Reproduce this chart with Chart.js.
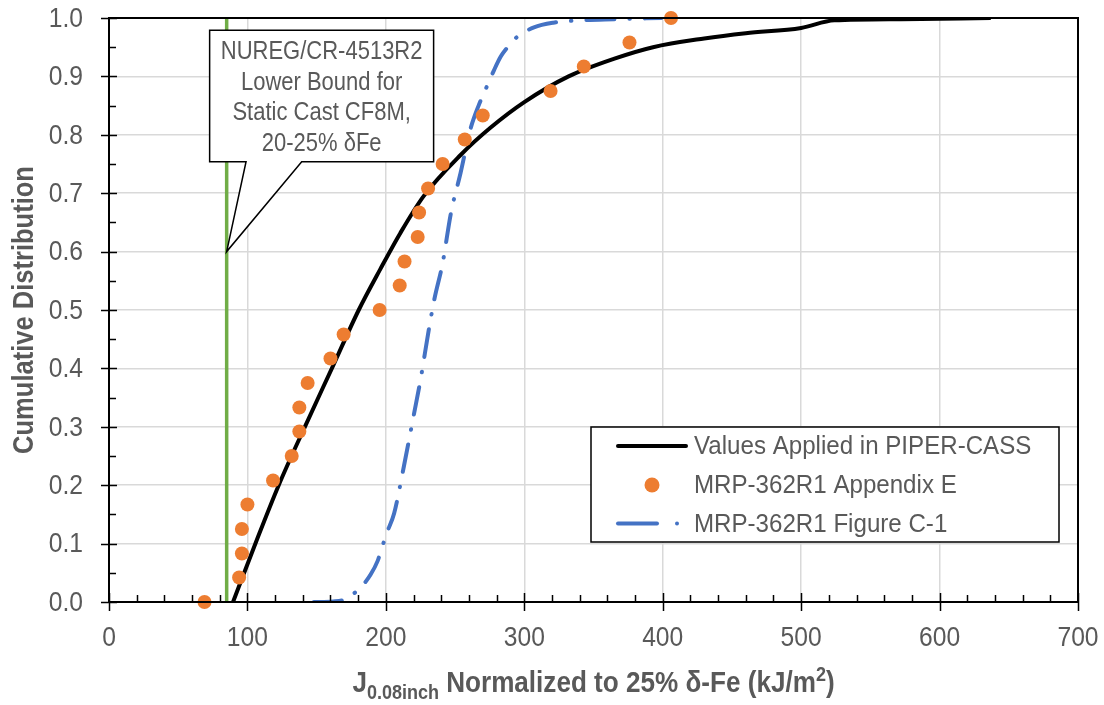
<!DOCTYPE html>
<html>
<head>
<meta charset="utf-8">
<script src="https://cdn.jsdelivr.net/npm/chart.js@4/dist/chart.umd.min.js"></script>
<style>
  body { margin: 0; background: #fff; }
  canvas { display: block; }
</style>
</head>
<body>
<canvas id="cdfChart" width="1104" height="705"></canvas>
<script>
// --- data ---
const pipcassX = [89.6, 106.9, 122.6, 141.5, 161, 180.4, 196, 210.5, 227.3, 253.8, 275.5, 300, 332, 364.6, 393, 430, 460, 500, 524, 572, 637];
const pipcassY = [0, 0.107, 0.2, 0.3, 0.4, 0.5, 0.57, 0.632, 0.695, 0.765, 0.812, 0.856, 0.9, 0.93, 0.95, 0.965, 0.974, 0.983, 0.996, 0.998, 1.0];

const appxEX = [69, 94, 96, 96, 100, 118.5, 132, 137.5, 137.5, 143.5, 160, 169.5, 195.5, 210, 213.5, 223, 224, 230.5, 241, 257, 270, 319, 343, 376, 406];
const appxEY = [0, 0.042, 0.083, 0.125, 0.167, 0.208, 0.25, 0.292, 0.333, 0.375, 0.417, 0.458, 0.5, 0.542, 0.583, 0.625, 0.667, 0.708, 0.75, 0.792, 0.833, 0.875, 0.917, 0.958, 1.0];

const figC1X = [148, 162, 170, 176, 183, 189, 194, 197, 201, 206, 213, 220, 225, 231, 235, 241, 247, 254, 261, 267, 273, 278, 283, 289, 295, 307, 321, 340, 365, 399];
const figC1Y = [0, 0.001, 0.004, 0.013, 0.028, 0.047, 0.07, 0.092, 0.12, 0.152, 0.232, 0.318, 0.38, 0.466, 0.518, 0.58, 0.666, 0.735, 0.809, 0.85, 0.883, 0.91, 0.934, 0.953, 0.968, 0.984, 0.992, 0.996, 0.998, 1.0];

const nuregX = [85, 85];
const nuregY = [0, 1];

const xTickValues = [0, 100, 200, 300, 400, 500, 600, 700];
const yTickLabels = ['0.0', '0.1', '0.2', '0.3', '0.4', '0.5', '0.6', '0.7', '0.8', '0.9', '1.0'];

const seriesNames = ['Values Applied in PIPER-CASS', 'MRP-362R1 Appendix E', 'MRP-362R1 Figure C-1'];
const noteLines = ['NUREG/CR-4513R2', 'Lower Bound for', 'Static Cast CF8M,', '20-25% \u03B4Fe'];

const BLACK = '#000000', ORANGE = '#ED7D31', BLUE = '#4472C4', GREEN = '#70AD47';
const TEXT = '#595959', GRID = '#D9D9D9';

// reference text is a narrow Arial; squeeze Liberation Sans horizontally
const FAM = '"Liberation Sans", Arial, sans-serif';
const SX = 0.88;
const SZ = { tick: 28, legend: 26.5, note: 25, title: 29, sub: 20 };

function pts(xs, ys) {
  return xs.map((x, i) => ({ x: x, y: ys[i] }));
}

function sText(ctx, s, x, y, align, sx) {
  ctx.save();
  ctx.translate(x, y);
  ctx.scale(sx || SX, 1);
  ctx.textAlign = align;
  ctx.fillText(s, 0, 0);
  ctx.restore();
}

// plot frame, Excel-style cross ticks and tick labels
const framePlugin = {
  id: 'frame',
  afterDatasetsDraw(chart) {
    const { ctx, chartArea: a, scales: { x, y } } = chart;
    ctx.save();
    ctx.strokeStyle = BLACK;
    ctx.lineWidth = 2;
    ctx.strokeRect(a.left, a.top, a.right - a.left, a.bottom - a.top);
    ctx.lineWidth = 1.5;
    ctx.beginPath();
    for (let v = 0; v <= 1.0001; v += 0.05) {
      const py = Math.round(y.getPixelForValue(v)) + 0.5;
      const major = Math.abs(v * 10 - Math.round(v * 10)) < 1e-6;
      ctx.moveTo(a.left - (major ? 8 : 0), py);
      ctx.lineTo(a.left + (major ? 8 : 7), py);
    }
    for (let v = 0; v <= 700; v += 20) {
      const px = Math.round(x.getPixelForValue(v)) + 0.5;
      const major = v % 100 === 0;
      ctx.moveTo(px, a.bottom + (major ? 9 : 0));
      ctx.lineTo(px, a.bottom - (major ? 9 : 7));
    }
    ctx.stroke();

    ctx.fillStyle = TEXT;
    ctx.font = SZ.tick + 'px ' + FAM;
    ctx.textBaseline = 'middle';
    yTickLabels.forEach(t => sText(ctx, t, a.left - 26, y.getPixelForValue(parseFloat(t)) + 1, 'right'));
    xTickValues.forEach(v => sText(ctx, String(v), x.getPixelForValue(v), a.bottom + 36, 'center'));
    ctx.restore();
  }
};

// callout box pointing at the NUREG lower bound line
const calloutPlugin = {
  id: 'callout',
  afterDatasetsDraw(chart) {
    const { ctx, scales: { x, y } } = chart;
    const L = x.getPixelForValue(72.7), R = x.getPixelForValue(234.5);
    const T = y.getPixelForValue(0.979), B = y.getPixelForValue(0.754);
    const p1 = x.getPixelForValue(99), p2 = x.getPixelForValue(139.2);
    const tipX = x.getPixelForValue(85), tipY = y.getPixelForValue(0.6);
    ctx.save();
    ctx.beginPath();
    ctx.moveTo(L, T);
    ctx.lineTo(R, T);
    ctx.lineTo(R, B);
    ctx.lineTo(p2, B);
    ctx.lineTo(tipX, tipY);
    ctx.lineTo(p1, B);
    ctx.lineTo(L, B);
    ctx.closePath();
    ctx.fillStyle = '#fff';
    ctx.fill();
    ctx.strokeStyle = BLACK;
    ctx.lineWidth = 1.5;
    ctx.stroke();
    ctx.fillStyle = TEXT;
    ctx.font = SZ.note + 'px ' + FAM;
    ctx.textBaseline = 'middle';
    const cx = (L + R) / 2;
    noteLines.forEach((s, i) => sText(ctx, s, cx, T + 22 + i * 30.5, 'center'));
    ctx.restore();
  }
};

// legend box inside the plot, lower right
const legendPlugin = {
  id: 'boxLegend',
  afterDatasetsDraw(chart) {
    const { ctx } = chart;
    const bx = 591, by = 427, bw = 468, bh = 115;
    const rows = [446, 485, 523.5];
    ctx.save();
    ctx.fillStyle = '#fff';
    ctx.fillRect(bx, by, bw, bh);
    ctx.strokeStyle = BLACK;
    ctx.lineWidth = 1.5;
    ctx.strokeRect(bx, by, bw, bh);

    ctx.lineCap = 'round';
    ctx.strokeStyle = BLACK;
    ctx.lineWidth = 4;
    ctx.beginPath();
    ctx.moveTo(618, rows[0]);
    ctx.lineTo(686, rows[0]);
    ctx.stroke();

    ctx.fillStyle = ORANGE;
    ctx.beginPath();
    ctx.arc(652, rows[1], 7.5, 0, Math.PI * 2);
    ctx.fill();

    ctx.strokeStyle = BLUE;
    ctx.beginPath();
    ctx.moveTo(618, rows[2]);
    ctx.lineTo(657, rows[2]);
    ctx.stroke();
    ctx.fillStyle = BLUE;
    ctx.beginPath();
    ctx.arc(677, rows[2], 2, 0, Math.PI * 2);
    ctx.fill();

    ctx.fillStyle = TEXT;
    ctx.font = SZ.legend + 'px ' + FAM;
    ctx.textBaseline = 'middle';
    seriesNames.forEach((s, i) => sText(ctx, s, 694, rows[i] + 1, 'left', 0.91));
    ctx.restore();
  }
};

// axis titles (x title has sub/superscripts)
const titlesPlugin = {
  id: 'axisTitles',
  afterDraw(chart) {
    const { ctx, chartArea: a } = chart;
    ctx.save();
    ctx.fillStyle = TEXT;
    ctx.textBaseline = 'alphabetic';
    const big = 'bold ' + SZ.title + 'px ' + FAM;
    const small = 'bold ' + SZ.sub + 'px ' + FAM;
    const tsx = 0.9;
    const parts = [
      { t: 'J', f: big, dy: 0 },
      { t: '0.08inch', f: small, dy: 7 },
      { t: ' Normalized to 25% \u03B4-Fe (kJ/m', f: big, dy: 0 },
      { t: '2', f: small, dy: -11 },
      { t: ')', f: big, dy: 0 }
    ];
    let total = 0;
    parts.forEach(p => { ctx.font = p.f; p.w = ctx.measureText(p.t).width * tsx; total += p.w; });
    let px = (a.left + a.right) / 2 - total / 2;
    const base = 692;
    parts.forEach(p => { ctx.font = p.f; sText(ctx, p.t, px, base + p.dy, 'left', tsx); px += p.w; });

    ctx.translate(33, (a.top + a.bottom) / 2);
    ctx.rotate(-Math.PI / 2);
    ctx.font = big;
    sText(ctx, 'Cumulative Distribution', 0, 0, 'center');
    ctx.restore();
  }
};

new Chart(document.getElementById('cdfChart'), {
  type: 'scatter',
  data: {
    datasets: [
      {
        label: seriesNames[1],
        data: pts(appxEX, appxEY),
        backgroundColor: ORANGE,
        borderColor: ORANGE,
        pointRadius: 7,
        pointBorderWidth: 0,
        showLine: false,
        clip: false,
        order: 1
      },
      {
        label: seriesNames[0],
        data: pts(pipcassX, pipcassY),
        borderColor: BLACK,
        borderWidth: 4,
        pointRadius: 0,
        showLine: true,
        cubicInterpolationMode: 'monotone',
        order: 2
      },
      {
        label: seriesNames[2],
        data: pts(figC1X, figC1Y),
        borderColor: BLUE,
        borderWidth: 4,
        borderDash: [28, 15, 0.5, 15],
        borderCapStyle: 'round',
        pointRadius: 0,
        showLine: true,
        cubicInterpolationMode: 'monotone',
        order: 3
      },
      {
        label: 'NUREG/CR-4513R2',
        data: pts(nuregX, nuregY),
        borderColor: GREEN,
        borderWidth: 3.5,
        pointRadius: 0,
        showLine: true,
        order: 4
      }
    ]
  },
  options: {
    responsive: false,
    animation: false,
    layout: { padding: { left: 0, top: 18, right: 26, bottom: 0 } },
    plugins: {
      legend: { display: false },
      tooltip: { enabled: false }
    },
    scales: {
      x: {
        type: 'linear',
        min: 0,
        max: 700,
        afterBuildTicks: s => { s.ticks = xTickValues.map(v => ({ value: v })); },
        afterFit: s => { s.height = 103; },
        ticks: { display: false },
        grid: { color: GRID, lineWidth: 1.5, drawTicks: false },
        border: { display: false }
      },
      y: {
        min: 0,
        max: 1,
        afterBuildTicks: s => { s.ticks = yTickLabels.map(t => ({ value: parseFloat(t) })); },
        afterFit: s => { s.width = 109; },
        ticks: { display: false },
        grid: { color: GRID, lineWidth: 1.5, drawTicks: false },
        border: { display: false }
      }
    }
  },
  plugins: [framePlugin, calloutPlugin, legendPlugin, titlesPlugin]
});
</script>
</body>
</html>
